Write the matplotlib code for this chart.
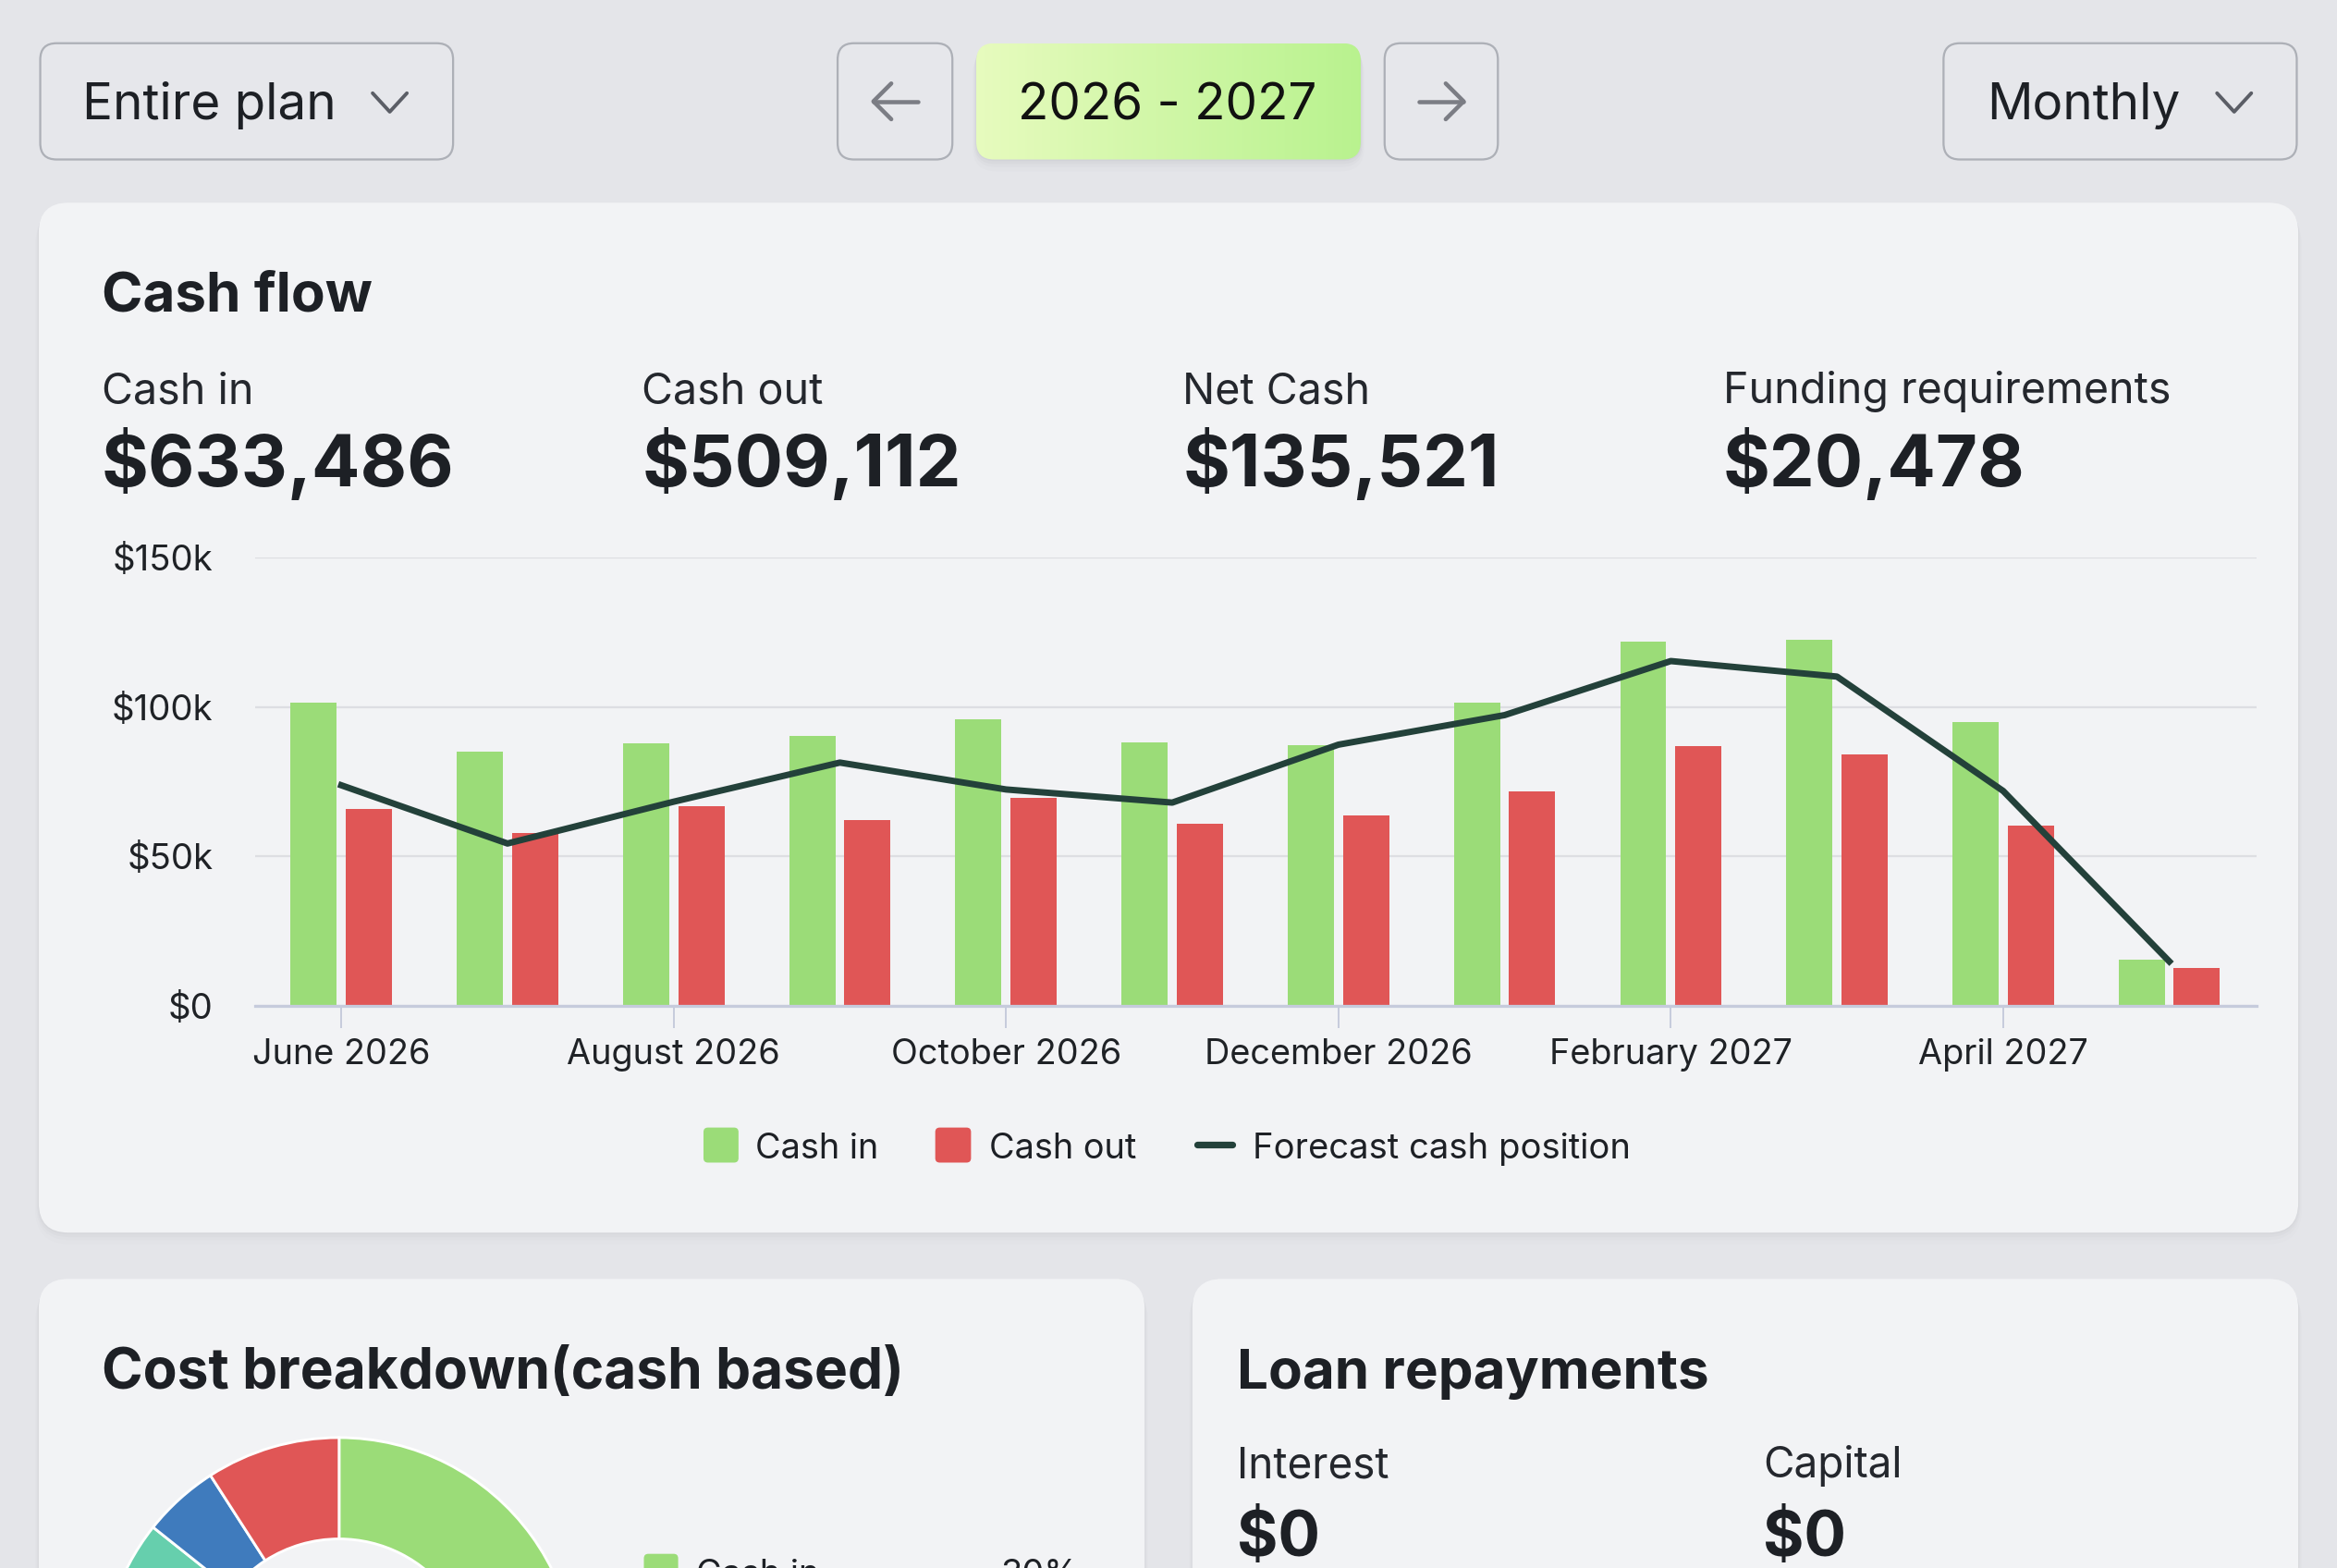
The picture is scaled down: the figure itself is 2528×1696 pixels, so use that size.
import numpy as np
import matplotlib
matplotlib.use("Agg")
import matplotlib.pyplot as plt
from matplotlib.patches import FancyBboxPatch, Rectangle
from matplotlib.lines import Line2D

plt.rcParams['font.family'] = ['Inter', 'DejaVu Sans']

# ---------------- data ----------------
months = ["June 2026", "July 2026", "August 2026", "September 2026", "October 2026",
          "November 2026", "December 2026", "January 2027", "February 2027",
          "March 2027", "April 2027", "May 2027"]
cash_in = [101.5, 85.0, 87.7, 90.3, 95.8, 88.1, 87.1, 101.6, 121.8, 122.5, 95.1, 15.5]   # $k
cash_out = [65.9, 57.8, 66.9, 62.1, 69.5, 60.9, 63.6, 71.9, 86.8, 84.1, 60.2, 12.6]    # $k
forecast = [73.8, 54.3, 68.3, 81.4, 72.4, 68.0, 87.4, 97.3, 115.4, 110.2, 71.9, 14.8]  # $k
y_ticks = [0, 50, 100, 150]
y_tick_labels = ["$0", "$50k", "$100k", "$150k"]
series_names = ["Cash in", "Cash out", "Forecast cash position"]

stat_labels = ["Cash in", "Cash out", "Net Cash", "Funding requirements"]
stat_values = ["$633,486", "$509,112", "$135,521", "$20,478"]

cost_labels = ["Cash in", "", "", "", ""]
cost_shares = [30, 43.7, 12, 5.2, 9.1]

loan_labels = ["Interest", "Capital"]
loan_values = ["$0", "$0"]

period_label = "2026 - 2027"
scope_label = "Entire plan"
freq_label = "Monthly"

# ---------------- style ----------------
BG = "#e4e5e9"
CARD = "#f2f3f5"
GREEN = "#9bdc78"
RED = "#e05656"
DARK = "#23413a"
TEAL = "#66cfad"
BLUE = "#3f7bbd"
AMBER = "#f0b557"
TXT = "#1d2025"
AXIS = "#c6cbdc"
GRID = "#dddee2"

W, H = 1568, 1052          # reference layout units
S = 2528 / W                 # output px per unit
PT = S * 72 / 100            # points per unit


def pt(v):
    return v * PT


fig = plt.figure(figsize=(25.28, 16.96), dpi=100, facecolor=BG)
bg = fig.add_axes([0, 0, 1, 1], zorder=0)
bg.set_xlim(0, W)
bg.set_ylim(H, 0)
bg.axis("off")
bg.set_facecolor(BG)


def rbox(x0, y0, x1, y1, r, fc, ec="none", lw=0, z=1, alpha=1.0):
    p = FancyBboxPatch((x0, y0), x1 - x0, y1 - y0,
                       boxstyle=f"round,pad=0,rounding_size={r}",
                       fc=fc, ec=ec, lw=lw, zorder=z, alpha=alpha)
    bg.add_patch(p)
    return p


def shadow(x0, y0, x1, y1, r, strength=0.05, z=0.5):
    for i, d in enumerate([1, 3, 5, 8]):
        rbox(x0 - d * 0.3, y0 + d * 0.6, x1 + d * 0.3, y1 + d, r + d * 0.5,
             fc="#8a8d96", z=z, alpha=strength * (1 - i * 0.2))


# ---------------- top controls ----------------
btn_y0, btn_y1 = 29, 107
for (x0, x1) in [(27, 304), (562, 639), (929, 1005), (1304, 1541)]:
    rbox(x0, btn_y0, x1, btn_y1, 11, fc="#e6e7eb", ec="#adb0b7", lw=pt(1.4), z=2)

# green period button with gradient
shadow(655, 29, 913, 107, 12, strength=0.07)
gp = rbox(655, 29, 913, 107, 12, fc="none", z=2)
grad = np.linspace(0, 1, 256)
c0 = np.array([0.905, 0.985, 0.745])
c1 = np.array([0.725, 0.950, 0.560])
img = (c0[None, :] * (1 - grad[:, None]) + c1[None, :] * grad[:, None])[None, :, :]
im = bg.imshow(img, extent=(655, 913, 107, 29), aspect="auto", zorder=2, interpolation="bilinear")
im.set_clip_path(gp)
bg.set_xlim(0, W)
bg.set_ylim(H, 0)

bg.text(55, 80, scope_label, fontsize=pt(34), color=TXT, va="baseline", ha="left", zorder=3)
bg.text(783, 80.5, period_label, fontsize=pt(34), color="#111", va="baseline", ha="center", zorder=3)
bg.text(1333, 80, freq_label, fontsize=pt(34), color=TXT, va="baseline", ha="left", zorder=3)

# chevrons
for cx in (261.5, 1499):
    bg.add_line(Line2D([cx - 11.5, cx, cx + 11.5], [62.5, 75, 62.5], color="#5b5e66",
                       lw=pt(2.4), solid_capstyle="round", solid_joinstyle="round", zorder=3))
# arrows
ac = "#7b7d84"
bg.add_line(Line2D([586, 616], [68, 68], color=ac, lw=pt(2.8), solid_capstyle="round", zorder=3))
bg.add_line(Line2D([598, 586, 598], [56, 68, 80], color=ac, lw=pt(2.8), solid_capstyle="round",
                   solid_joinstyle="round", zorder=3))
bg.add_line(Line2D([952, 982], [68, 68], color=ac, lw=pt(2.8), solid_capstyle="round", zorder=3))
bg.add_line(Line2D([970, 982, 970], [56, 68, 80], color=ac, lw=pt(2.8), solid_capstyle="round",
                   solid_joinstyle="round", zorder=3))

# ---------------- cards ----------------
shadow(26, 136, 1542, 827, 20)
rbox(26, 136, 1542, 827, 20, fc=CARD, z=1)
shadow(26, 858, 768, 1100, 20)
rbox(26, 858, 768, 1100, 20, fc=CARD, z=1)
shadow(800, 858, 1542, 1100, 20)
rbox(800, 858, 1542, 1100, 20, fc=CARD, z=1)

# ---------------- cash flow header ----------------
bg.text(68, 209, "Cash flow", fontsize=pt(37.3), fontweight="bold", color=TXT, va="baseline", zorder=3)
for i, (lab, val) in enumerate(zip(stat_labels, stat_values)):
    x = 68 + i * 362.7
    bg.text(x, 270.6, lab, fontsize=pt(28.9), color="#24272d", va="baseline", zorder=3)
    bg.text(x, 326.4, val, fontsize=pt(48.2), fontweight="bold", color=TXT, va="baseline", zorder=3)

# ---------------- cash flow chart ----------------
x_left, x_right = 171, 1514
y_top, y_zero = 374.2, 674.7
ax = fig.add_axes([x_left / W, 1 - y_zero / H, (x_right - x_left) / W, (y_zero - y_top) / H],
                  zorder=2)
ax.patch.set_alpha(0)
xs = np.arange(len(months))
step = 111.5
bw = 31 / step
off = 18.5 / step
ax.bar(xs - off, cash_in, width=bw, color=GREEN, zorder=2, label=series_names[0])
ax.bar(xs + off, cash_out, width=bw, color=RED, zorder=2, label=series_names[1])
ax.plot(xs, forecast, color=DARK, lw=pt(4.3), zorder=3, label=series_names[2])
ax.set_xlim((x_left - 229) / step, (x_right - 229) / step)
ax.set_ylim(0, 150)
ax.set_yticks(y_ticks)
ax.set_yticklabels(y_tick_labels)
ax.set_xticks(xs[::2])
ax.set_xticklabels(months[::2])
ax.yaxis.grid(True, color=GRID, lw=pt(1.4), zorder=0)
ax.set_axisbelow(True)
for sp in ["top", "left", "right"]:
    ax.spines[sp].set_visible(False)
ax.spines["bottom"].set_color(AXIS)
ax.spines["bottom"].set_linewidth(pt(2.0))
ax.spines["bottom"].set_zorder(4)
ax.tick_params(axis="y", length=0, pad=pt(28), labelsize=pt(23.8), labelcolor="#1f2226")
ax.tick_params(axis="x", length=pt(15), width=pt(1.2), color=AXIS, pad=pt(7),
               labelsize=pt(23.5), labelcolor="#1f2226")

# legend (drawn in layout units)
ly = 768
rbox(472, 756.5, 495.5, 780, 3, fc=GREEN, z=3)
bg.text(507, 777, series_names[0], fontsize=pt(23.5), color=TXT, va="baseline", zorder=3)
rbox(627.5, 756.5, 651.5, 780, 3, fc=RED, z=3)
bg.text(663.5, 777, series_names[1], fontsize=pt(23.5), color=TXT, va="baseline", zorder=3)
bg.add_line(Line2D([803, 827], [ly, ly], color=DARK, lw=pt(4.5), solid_capstyle="round", zorder=3))
bg.text(840.5, 777, series_names[2], fontsize=pt(23.7), color=TXT, va="baseline", zorder=3)

# ---------------- cost breakdown ----------------
bg.text(68, 931.5, "Cost breakdown(cash based)", fontsize=pt(37.5), fontweight="bold", color=TXT,
        va="baseline", zorder=3)
cx, cy, R, r_in = 227.5, 1124, 159.5, 91.5
pax = fig.add_axes([(cx - R) / W, 1 - (cy + R) / H, 2 * R / W, 2 * R / H], zorder=2)
pax.pie(cost_shares, colors=[GREEN, AMBER, TEAL, BLUE, RED], startangle=90, counterclock=False,
        radius=1, wedgeprops=dict(width=(R - r_in) / R, edgecolor="white", linewidth=pt(1.8)))
pax.set_xlim(-1, 1)
pax.set_ylim(-1, 1)
pax.axis("off")

rbox(432, 1042.5, 455, 1066, 3, fc=GREEN, z=3)
bg.text(467, 1063, cost_labels[0], fontsize=pt(23.5), color=TXT, va="baseline", zorder=3)
bg.text(724, 1063, f"{cost_shares[0]:.0f}%", fontsize=pt(23.5), color=TXT, va="baseline",
        ha="right", zorder=3)

# ---------------- loan repayments ----------------
bg.text(830, 931.5, "Loan repayments", fontsize=pt(37.3), fontweight="bold", color=TXT,
        va="baseline", zorder=3)
for i, (lab, val) in enumerate(zip(loan_labels, loan_values)):
    x = 830 + i * 353
    bg.text(x, 991.5, lab, fontsize=pt(28.5), color="#24272d", va="baseline", zorder=3)
    bg.text(x, 1044, val, fontsize=pt(42), fontweight="bold", color=TXT, va="baseline", zorder=3)

fig.savefig("out.png", dpi=100, facecolor=BG)
